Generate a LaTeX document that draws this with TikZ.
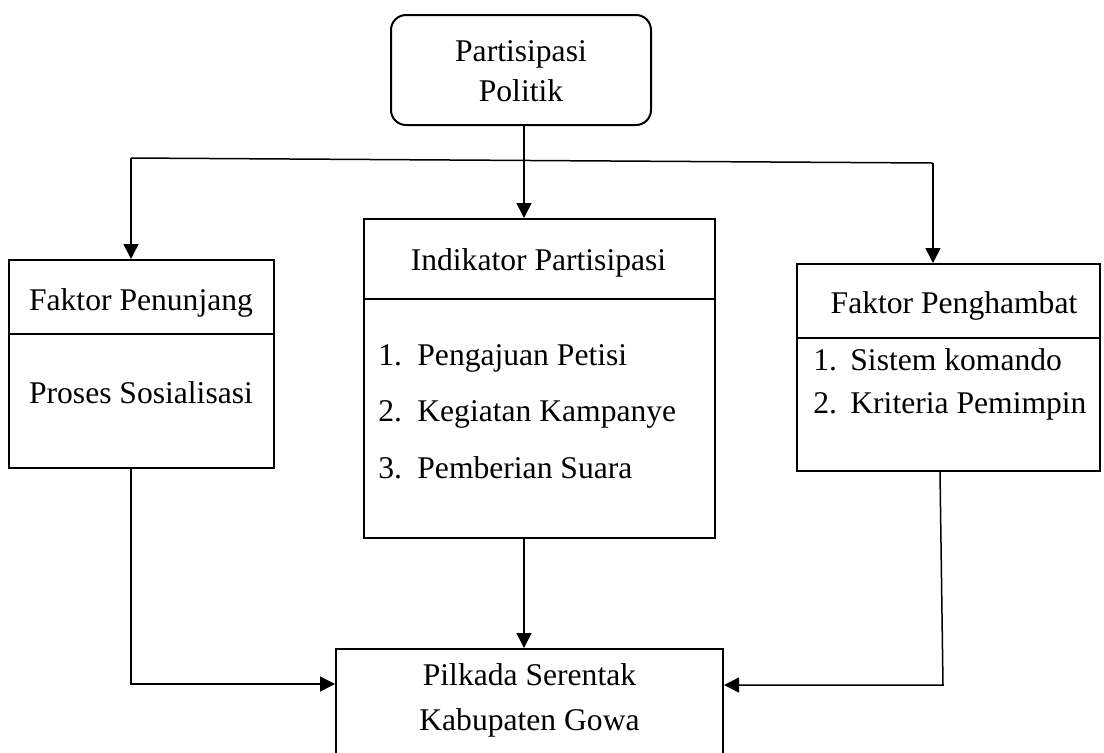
\documentclass[tikz,border=0pt]{standalone}
\usepackage{fontspec}
\setmainfont{Liberation Serif}
\usetikzlibrary{calc,arrows.meta}

\tikzset{
	kotak/.style={draw, line width=1pt, inner sep=0pt},
	garis/.style={line width=0.75pt},
	panah/.style={line width=0.75pt, -{Triangle[length=7.5pt,width=7.5pt]}},
	teks/.style={inner sep=0pt, text height=2ex, text depth=0.25ex}
}

\begin{document}
\begin{tikzpicture}[x=0.5pt, y=-0.5pt, font=\fontsize{15.8}{19}\selectfont]
			%%%%% START %%%%%
			
			\useasboundingbox (0, 0) rectangle (1104, 752);
			\clip (0, 0) rectangle (1104, 752);
			
			\node[kotak, rounded corners=7.5pt, minimum width=130pt, minimum height=55pt] (politik) at (521, 70) {};
			\node[teks] (politik1) at (521, 53) {Partisipasi};
			\node[teks] (politik2) at (521, 93) {Politik};
			
			\node[kotak, minimum width=132.5pt, minimum height=104pt] (penunjang) at (141.5, 364) {};
			\draw[kotak] ($(penunjang.north west)+(0, 75)$) -- ($(penunjang.north east)+(0, 75)$);
			\node[teks] (penunjang1) at (141, 302) {Faktor Penunjang};
			\node[teks] (penunjang2) at (141, 395) {Proses Sosialisasi};
			
			\node[kotak, minimum width=175.5pt, minimum height=159.5pt] (indikator) at (539.5, 378.5) {};
			\draw[kotak] ($(indikator.north west)+(0, 81)$) -- ($(indikator.north east)+(0, 81)$);
			\node[teks] (indikator0) at (538.5, 262) {Indikator Partisipasi};
			\node[teks, anchor=west] (no1) at (378, 357) {1.};
			\node[teks, anchor=west] (indikator1) at (417, 357) {Pengajuan Petisi};
			\node[teks, anchor=west] (no2) at (378, 413) {2.};
			\node[teks, anchor=west] (indikator2) at (417, 413) {Kegiatan Kampanye};
			\node[teks, anchor=west] (no3) at (378, 470) {3.};
			\node[teks, anchor=west] (indikator3) at (417, 470) {Pemberian Suara};
			
			\node[kotak, minimum width=151.5pt, minimum height=103.5pt] (penghambat) at (948.5, 367.5) {};
			\draw[kotak] ($(penghambat.north west)+(0, 75)$) -- ($(penghambat.north east)+(0, 75)$);
			\node[teks] (penghambat0) at (954, 305) {Faktor Penghambat};
			\node[teks, anchor=west] (no4) at (813, 362) {1.};
			\node[teks, anchor=west] (penghambat1) at (850, 362) {Sistem komando};
			\node[teks, anchor=west] (no5) at (813, 405) {2.};
			\node[teks, anchor=west] (penghambat2) at (850, 405) {Kriteria Pemimpin};
			
			\node[kotak, minimum width=193.5pt, minimum height=60.5pt] (pilkada) at (529.5, 709.5) {};
			\node[teks] (pilkada1) at (529.5, 677) {Pilkada Serentak};
			\node[teks] (pilkada2) at (529.5, 722) {Kabupaten Gowa};
			
			% cabang atas
			\coordinate (cabang) at (524, 160);
			\coordinate (kiri) at (131, 158);
			\coordinate (kanan) at (933, 163);
			\draw[garis] (kiri) -- (kanan);
			\draw[panah] (cabang |- politik.south) -- (cabang |- indikator.north);
			\draw[panah] (kiri) -- (kiri |- penunjang.north);
			\draw[panah] (kanan) -- (kanan |- penghambat.north);
			
			% ke pilkada
			\coordinate (bawahkiri) at (131, 684);
			\coordinate (kananatas) at (940, 471);
			\coordinate (bawahkanan) at (943, 685);
			\draw[panah] (bawahkiri |- penunjang.south) |- (pilkada.west |- bawahkiri);
			\draw[panah] (cabang |- indikator.south) -- (cabang |- pilkada.north);
			\draw[panah] (kananatas |- penghambat.south) -- (bawahkanan) -- (pilkada.east |- bawahkanan);
			
			%%%%% END %%%%%
\end{tikzpicture}
\end{document}
